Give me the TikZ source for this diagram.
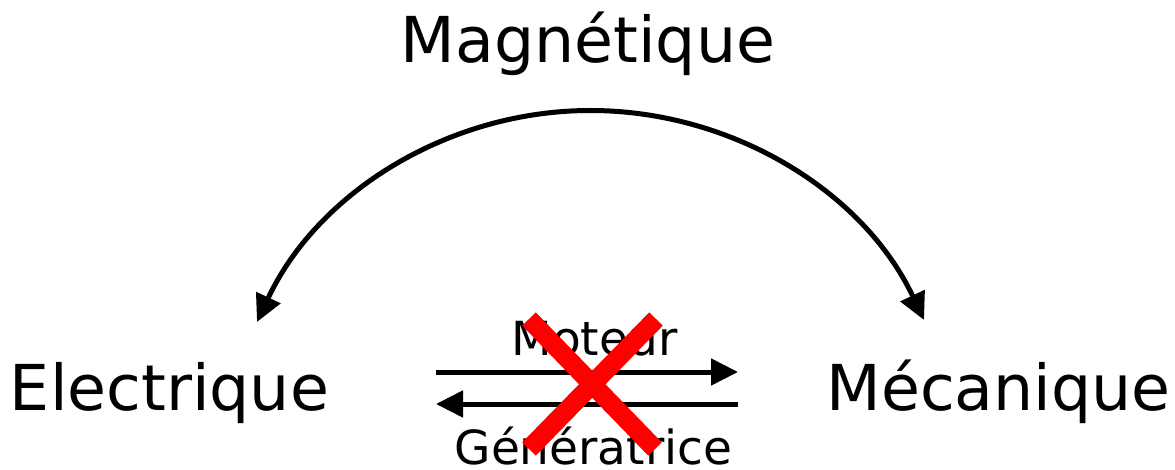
\documentclass[tikz,border=0pt]{standalone}
\usepackage{fontspec}
\setmainfont{DejaVu Sans}
\usetikzlibrary{arrows.meta}
\begin{document}
\begin{tikzpicture}[x=1pt,y=-1pt,
  lbl/.style={inner sep=0pt,anchor=base,font=\fontsize{63.3}{70}\selectfont},
  sublbl/.style={inner sep=0pt,anchor=base,font=\fontsize{47}{54}\selectfont},
  conn/.style={line width=5pt,-{Triangle[length=27pt,width=26pt]}},
  arcconn/.style={line width=5pt,{Triangle[length=27pt,width=26pt]}-{Triangle[length=27pt,width=26pt]}},
  cross/.style={draw=red,line width=19pt,line cap=butt}]
\useasboundingbox (0,0) rectangle (1175,470);
\node[lbl] (mag) at (588,63) {Magnétique};
\node[lbl] (ele) at (169.5,410) {Electrique};
\node[lbl] (mec) at (998.5,410) {Mécanique};
\node[sublbl] (mot) at (594.5,355) {Moteur};
\node[sublbl] (gen) at (593.5,464) {Génératrice};
\coordinate (lt) at (257,322);
\coordinate (top) at (590.5,110.5);
\coordinate (rt) at (924,320);
\draw[arcconn] (lt) .. controls (317.3,192.8) and (447.9,110.5) .. (top) .. controls (732.4,110.5) and (863.4,191.7) .. (rt);
\coordinate (a1) at (436,372);
\coordinate (b1) at (738,372);
\coordinate (a2) at (738,404);
\coordinate (b2) at (436,404);
\draw[conn] (a1) -- (b1);
\draw[conn] (a2) -- (b2);
\coordinate (x1) at (529,319);
\coordinate (x2) at (655,449);
\coordinate (x3) at (656,319);
\coordinate (x4) at (529,449);
\draw[cross] (x1) -- (x2);
\draw[cross] (x3) -- (x4);
\end{tikzpicture}
\end{document}
